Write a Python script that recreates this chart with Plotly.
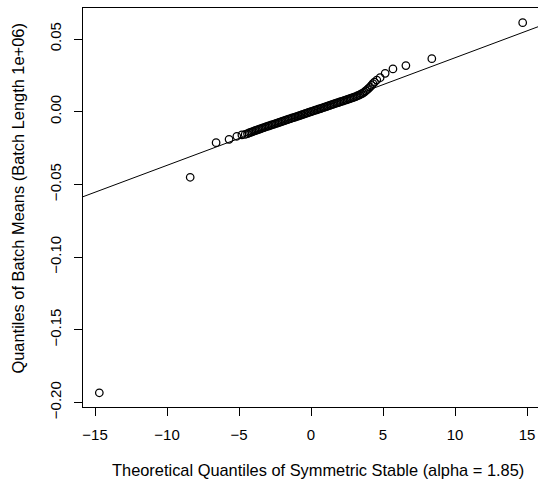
import plotly.graph_objects as go

# Theoretical quantiles (x) and sorted batch means (y)
theo_q = [-14.70, -8.39, -6.59, -5.69, -5.15, -4.80, -4.57, -4.41,
          -4.3, -4.2, -4.1, -4.0, -3.9, -3.8, -3.7, -3.6, -3.5, -3.4, -3.3, -3.2, -3.1,
          -3.0, -2.9, -2.8, -2.7, -2.6, -2.5, -2.4, -2.3, -2.2, -2.1,
          -2.0, -1.9, -1.8, -1.7, -1.6, -1.5, -1.4, -1.3, -1.2, -1.1,
          -1.0, -0.9, -0.8, -0.7, -0.6, -0.5, -0.4, -0.3, -0.2, -0.1,
          0.0, 0.1, 0.2, 0.3, 0.4, 0.5, 0.6, 0.7, 0.8, 0.9,
          1.0, 1.1, 1.2, 1.3, 1.4, 1.5, 1.6, 1.7, 1.8, 1.9,
          2.0, 2.1, 2.2, 2.3, 2.4, 2.5, 2.6, 2.7, 2.8, 2.9,
          3.0, 3.1, 3.2, 3.3, 3.4, 3.5, 3.6, 3.7, 3.8, 3.9,
          4.0, 4.1, 4.2, 4.3,
          4.41, 4.57, 4.80, 5.15, 5.69, 6.59, 8.39, 14.70]
batch_q = [-0.1933, -0.0451, -0.0213, -0.0190, -0.0169, -0.0160, -0.0156, -0.0151,
           -0.0146, -0.0142, -0.0139, -0.0135, -0.0131, -0.0128, -0.0124, -0.0121, -0.0117, -0.0114, -0.0110, -0.0107, -0.0103,
           -0.0100, -0.0097, -0.0093, -0.0090, -0.0087, -0.0083, -0.0080, -0.0077, -0.0073, -0.0070,
           -0.0067, -0.0063, -0.0060, -0.0057, -0.0053, -0.0050, -0.0047, -0.0043, -0.0040, -0.0037,
           -0.0033, -0.0030, -0.0027, -0.0023, -0.0020, -0.0017, -0.0013, -0.0010, -0.0007, -0.0003,
           0.0000, 0.0003, 0.0007, 0.0010, 0.0013, 0.0017, 0.0020, 0.0023, 0.0027, 0.0030,
           0.0033, 0.0037, 0.0040, 0.0043, 0.0047, 0.0050, 0.0053, 0.0057, 0.0060, 0.0063,
           0.0067, 0.0070, 0.0073, 0.0077, 0.0080, 0.0083, 0.0087, 0.0090, 0.0093, 0.0097,
           0.0100, 0.0104, 0.0108, 0.0112, 0.0117, 0.0122, 0.0128, 0.0135, 0.0143, 0.0151,
           0.0160, 0.0170, 0.0181, 0.0193,
           0.0204, 0.0218, 0.0234, 0.0264, 0.0294, 0.0317, 0.0365, 0.0612]

# Reference line (qqline) parameters
line_intercept = 0.0001
line_slope = 0.00370

x_ticks = [-15, -10, -5, 0, 5, 10, 15]
y_ticks = [-0.20, -0.15, -0.10, -0.05, 0.00, 0.05]
y_tick_labels = ["\u22120.20", "\u22120.15", "\u22120.10", "\u22120.05", "0.00", "0.05"]
x_tick_labels = ["\u221215", "\u221210", "\u22125", "0", "5", "10", "15"]

x_range = [-15.833, 15.764]
y_range = [-0.2031, 0.07132]

FONT = "Liberation Sans, Arial, Helvetica, sans-serif"
TICK_SIZE = 15
TITLE_SIZE = 16.4

fig = go.Figure()
fig.add_trace(go.Scatter(
    x=x_range,
    y=[line_intercept + line_slope * v for v in x_range],
    mode="lines", line=dict(color="black", width=1), hoverinfo="skip"))
fig.add_trace(go.Scatter(
    x=theo_q, y=batch_q, mode="markers",
    marker=dict(symbol="circle-open", size=7.5, color="black", line=dict(width=1.25, color="black"))))

fig.update_layout(
    width=538, height=484,
    margin=dict(l=83, r=0, t=8, b=77, autoexpand=False),
    paper_bgcolor="white", plot_bgcolor="white",
    showlegend=False,
    font=dict(family=FONT, size=TICK_SIZE, color="black"),
)
fig.update_xaxes(
    range=x_range, showgrid=False, zeroline=False,
    showline=True, mirror=True, linecolor="black", linewidth=1,
    ticks="outside", ticklen=8, tickcolor="black", tickwidth=1,
    tickvals=x_ticks, ticktext=x_tick_labels, ticklabelstandoff=6,
    tickfont=dict(size=TICK_SIZE, family=FONT, color="black"),
)
fig.update_yaxes(
    range=y_range, showgrid=False, zeroline=False,
    showline=True, mirror=False, linecolor="black", linewidth=1,
    ticks="outside", ticklen=8, tickcolor="black", tickwidth=1,
    tickvals=y_ticks, ticktext=y_tick_labels, tickangle=-90, ticklabelstandoff=7,
    tickfont=dict(size=TICK_SIZE, family=FONT, color="black"),
)

# Axis titles placed as annotations in pixel-matched paper coordinates
plot_w = 538 - 83
plot_h = 484 - 8 - 77
fig.add_annotation(
    text="Theoretical Quantiles of Symmetric Stable (alpha = 1.85)",
    xref="paper", yref="paper",
    x=(318 - 83) / plot_w, y=(407 - 470) / plot_h,
    xanchor="center", yanchor="middle", showarrow=False,
    font=dict(size=TITLE_SIZE, family=FONT, color="black"))
fig.add_annotation(
    text="Quantiles of Batch Means (Batch Length 1e+06)",
    xref="paper", yref="paper",
    x=(17.5 - 83) / plot_w, y=(407 - 199) / plot_h,
    xanchor="center", yanchor="middle", textangle=-90, showarrow=False,
    font=dict(size=TITLE_SIZE, family=FONT, color="black"))

fig.write_html("out.html",
               config={"displayModeBar": False},
               post_script="document.body.style.margin='0';document.body.style.overflow='hidden';")
